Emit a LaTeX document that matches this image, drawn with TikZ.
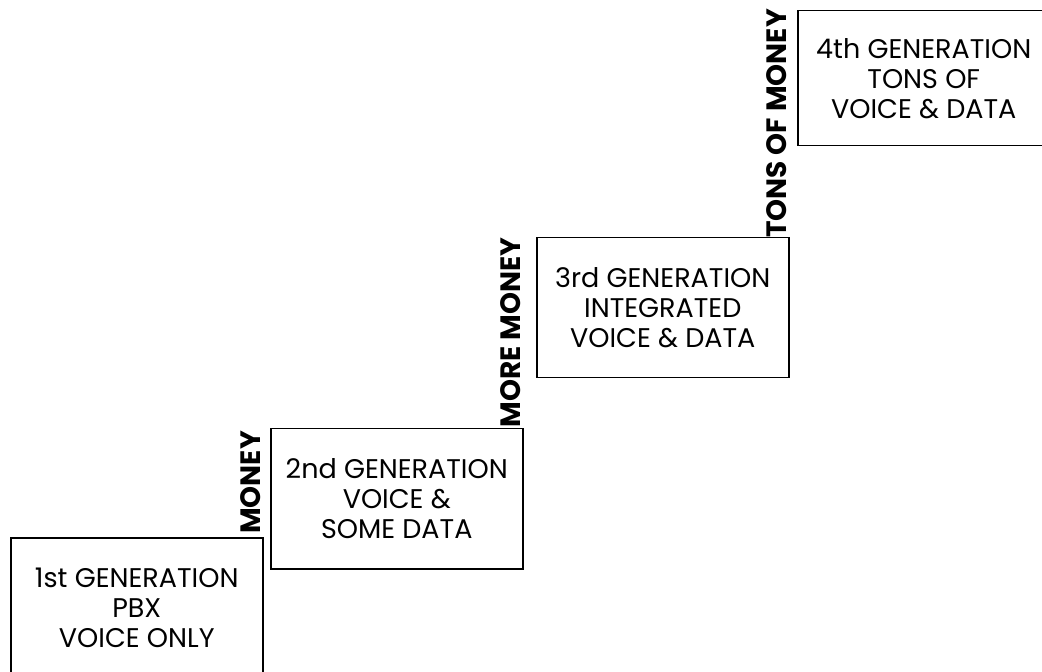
\documentclass[tikz,border=0pt]{standalone}
\usepackage{fontspec}
\setmainfont{Poppins}
\usepackage{tikz}
\usetikzlibrary{calc}

\tikzset{
    genbox/.style={draw, line width=0.75pt, minimum width=126pt, minimum height=70pt,
        inner sep=0pt, anchor=north west, align=center,
        font=\fontsize{13.5}{15}\selectfont},
    moneytag/.style={rotate=90, anchor=south, inner sep=1pt,
        font=\fontsize{14}{15}\selectfont\bfseries}
}

\begin{document}
\begin{tikzpicture}[x=0.5pt, y=-0.5pt]
    \useasboundingbox (0, 0) rectangle (1042, 672);
    \clip (0, 0) rectangle (1042, 672);

    % Generation boxes, climbing to the right
    \node[genbox] (gen1) at (10, 537) {1st GENERATION\\PBX\\VOICE ONLY};
    \node[genbox] (gen2) at (270, 428) {2nd GENERATION\\VOICE \&\\SOME DATA};
    \node[genbox] (gen3) at (536, 237) {3rd GENERATION\\INTEGRATED\\VOICE \& DATA};
    \node[genbox, minimum height=67.5pt] (gen4) at (797, 10) {4th GENERATION\\TONS OF\\VOICE \& DATA};

    % Money on each riser
    \foreach \lo/\hi/\txt [count=\i] in {gen1/gen2/MONEY, gen2/gen3/MORE MONEY, gen3/gen4/TONS OF MONEY} {
        \node[moneytag] (money\i) at ($(\lo.north east)!.5!(\lo.north east |- \hi.north)$) {\txt};
    }
\end{tikzpicture}
\end{document}
